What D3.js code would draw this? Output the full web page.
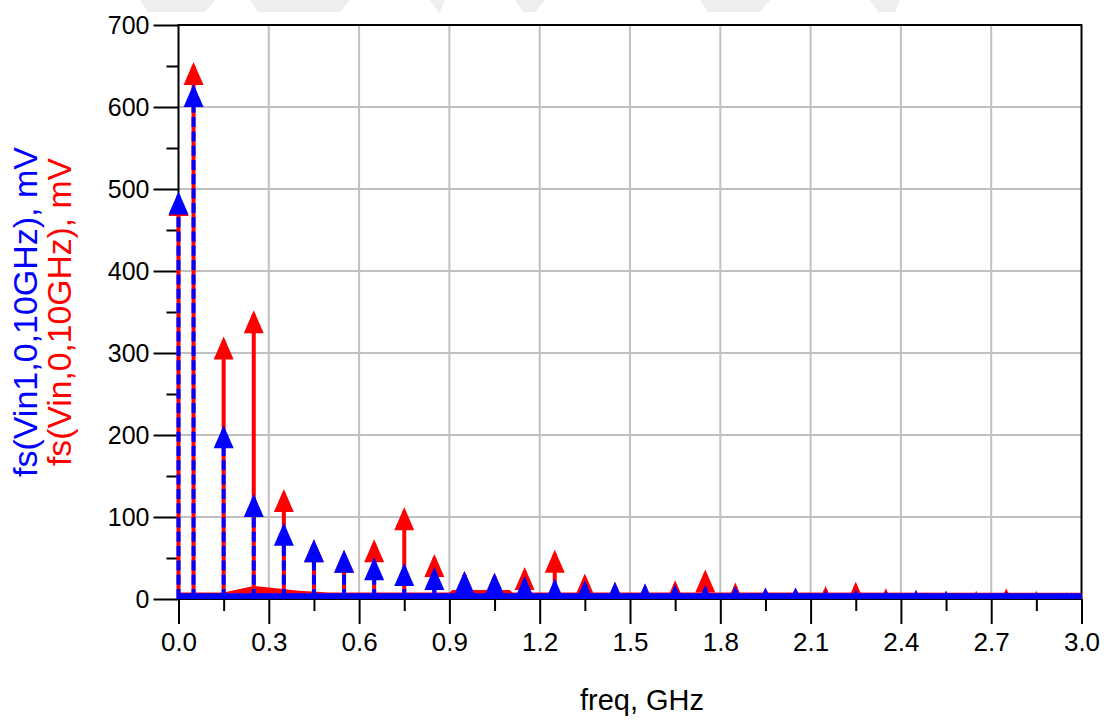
<!DOCTYPE html>
<html><head><meta charset="utf-8">
<script src="https://cdn.jsdelivr.net/npm/d3@7"></script>
<style>body{margin:0;background:#fff}svg{display:block;font-family:"Liberation Sans",Arial,sans-serif}</style>
</head><body><svg id="c" width="1104" height="720"></svg>
<script>
// harmonic frequencies (GHz)
const harmFreq=[0,0.05,0.15,0.25,0.35,0.45,0.55,0.65,0.75,0.85,0.95,1.05,1.15,1.25,1.35,1.45,1.55,1.65,1.75,1.85,1.95,2.05,2.15,2.25,2.35,2.45,2.55,2.65,2.75,2.85,2.95];
// fs(Vin1,0,10GHz), mV  (blue)
const vin1Vals=[497,628,212,128,93,73,60,51,44,39,34,32,28,25,23,21,19,18,17,16,14,14,11,12,10,11,10,8,9,8,8];
// fs(Vin,0,10GHz), mV  (red)
const vinVals=[495,655,320,352,134,73,60,73,112,55,34,32,39,60,31,21,19,23,36,20,14,14,16,21,13,11,10,10,13,10,8];
// spectral floor (dense low-level points)
const redFloorFreq=[0,0.15,0.2,0.25,0.3,0.4,0.5,0.9,0.91,1.1,1.11,3.0];
const redFloorVals=[8,8,12,16,14,10,8,8,11,11,8,7.5];
const blueFloorFreq=[0,3.0];
const blueFloorVals=[7,7];
// axes
const xTicks=[0,0.3,0.6,0.9,1.2,1.5,1.8,2.1,2.4,2.7,3.0];
const xTickLabels=["0.0","0.3","0.6","0.9","1.2","1.5","1.8","2.1","2.4","2.7","3.0"];
const xMinorTicks=[0.15,0.45,0.75,1.05,1.35,1.65,1.95,2.25,2.55,2.85];
const yTicks=[0,100,200,300,400,500,600,700];
const yMinorTicks=[50,150,250,350,450,550,650];
const xTitle="freq, GHz";
const yTitleBlue="fs(Vin1,0,10GHz), mV";
const yTitleRed="fs(Vin,0,10GHz), mV";

const svg=d3.select("#c");
const x=d3.scaleLinear().domain([0,3]).range([178.5,1081.5]);
const y=d3.scaleLinear().domain([0,700]).range([599,25]);
const RED="#ff0000",BLUE="#0000ff";

// faint background marks at the very top
const bgMarks=[[140,215,205],[250,350,340],[430,445,440],[515,545,535],[700,770,760],[870,900,895]];
svg.append("g").selectAll("path").data(bgMarks).join("path")
 .attr("d",d=>`M${d[0]},0L${d[1]},0L${d[2]},12L${d[0]+8},12Z`).attr("fill","#eeeeee");

// grid
svg.append("g").selectAll("line").data(yTicks.filter(v=>v>0&&v<700)).join("line")
 .attr("x1",x(0)).attr("x2",x(3)).attr("y1",d=>y(d)).attr("y2",d=>y(d))
 .attr("stroke","#c0c0c0").attr("stroke-width",2);
svg.append("g").selectAll("line").data(xTicks.filter(v=>v>0&&v<3)).join("line")
 .attr("x1",d=>x(d)).attr("x2",d=>x(d)).attr("y1",y(0)).attr("y2",y(700))
 .attr("stroke","#c0c0c0").attr("stroke-width",2);

// frame
svg.append("rect").attr("x",x(0)).attr("y",y(700)).attr("width",x(3)-x(0)).attr("height",y(0)-y(700))
 .attr("fill","none").attr("stroke","#000").attr("stroke-width",2);

// axes
const yAx=svg.append("g").attr("transform",`translate(${x(0)},0)`)
 .call(d3.axisLeft(y).tickValues(yTicks).tickSize(25).tickPadding(4).tickFormat(d3.format("d")));
const yAxMin=svg.append("g").attr("transform",`translate(${x(0)},0)`)
 .call(d3.axisLeft(y).tickValues(yMinorTicks).tickSize(12).tickFormat(""));
const xAx=svg.append("g").attr("transform",`translate(0,${y(0)})`)
 .call(d3.axisBottom(x).tickValues(xTicks).tickSize(25).tickPadding(9).tickFormat((d,i)=>xTickLabels[i]));
const xAxMin=svg.append("g").attr("transform",`translate(0,${y(0)})`)
 .call(d3.axisBottom(x).tickValues(xMinorTicks).tickSize(12).tickFormat(""));
[yAx,yAxMin,xAx,xAxMin].forEach(g=>{
  g.select(".domain").remove();
  g.selectAll(".tick line").attr("stroke","#000").attr("stroke-width",2);
  g.selectAll("text").attr("fill","#000").attr("font-family","Liberation Sans, Arial, sans-serif");
});
yAx.selectAll("text").attr("font-size",25).attr("dy","0.34em");
xAx.selectAll("text").attr("font-size",26);

// clip for data (cut at zero line)
svg.append("defs").append("clipPath").attr("id","clp").append("rect")
 .attr("x",0).attr("y",0).attr("width",1104).attr("height",y(0));
const data=svg.append("g").attr("clip-path","url(#clp)");

function tri(f,v){
  const cx=x(f),ty=y(v);
  return `M${cx},${ty}L${cx+10},${ty+23}L${cx-10},${ty+23}Z`;
}
function floorArea(fr,vals){
  return d3.area().x((d,i)=>x(fr[i])).y0(y(0)).y1((d,i)=>y(vals[i]))(vals);
}
// red series
data.append("path").attr("d",floorArea(redFloorFreq,redFloorVals)).attr("fill",RED);
data.append("g").selectAll("line").data(harmFreq).join("line")
 .attr("x1",d=>x(d)).attr("x2",d=>x(d)).attr("y1",y(0)).attr("y2",(d,i)=>y(vinVals[i])+4)
 .attr("stroke",RED).attr("stroke-width",4);
data.append("g").selectAll("path").data(harmFreq).join("path")
 .attr("d",(d,i)=>tri(d,vinVals[i])).attr("fill",RED);
// blue series
data.append("path").attr("d",floorArea(blueFloorFreq,blueFloorVals)).attr("fill",BLUE);
data.append("g").selectAll("line").data(harmFreq).join("line")
 .attr("x1",d=>x(d)).attr("x2",d=>x(d)).attr("y1",y(0)).attr("y2",(d,i)=>y(vin1Vals[i])+4)
 .attr("stroke",BLUE).attr("stroke-width",4).attr("stroke-dasharray","10,4.3");
data.append("g").selectAll("path").data(harmFreq).join("path")
 .attr("d",(d,i)=>tri(d,vin1Vals[i])).attr("fill",BLUE);

// titles
const ymid=(y(0)+y(700))/2;
svg.append("text").attr("transform",`translate(37,${ymid}) rotate(-90)`).attr("text-anchor","middle")
 .attr("font-size",33).attr("fill",BLUE).attr("textLength",330).attr("lengthAdjust","spacingAndGlyphs").text(yTitleBlue);
svg.append("text").attr("transform",`translate(70.5,${ymid}) rotate(-90)`).attr("text-anchor","middle")
 .attr("font-size",33).attr("fill",RED).attr("textLength",308).attr("lengthAdjust","spacingAndGlyphs").text(yTitleRed);
svg.append("text").attr("x",(x(0)+x(3))/2+12).attr("y",710).attr("text-anchor","middle")
 .attr("font-size",29).attr("fill","#000").text(xTitle);
</script></body></html>
